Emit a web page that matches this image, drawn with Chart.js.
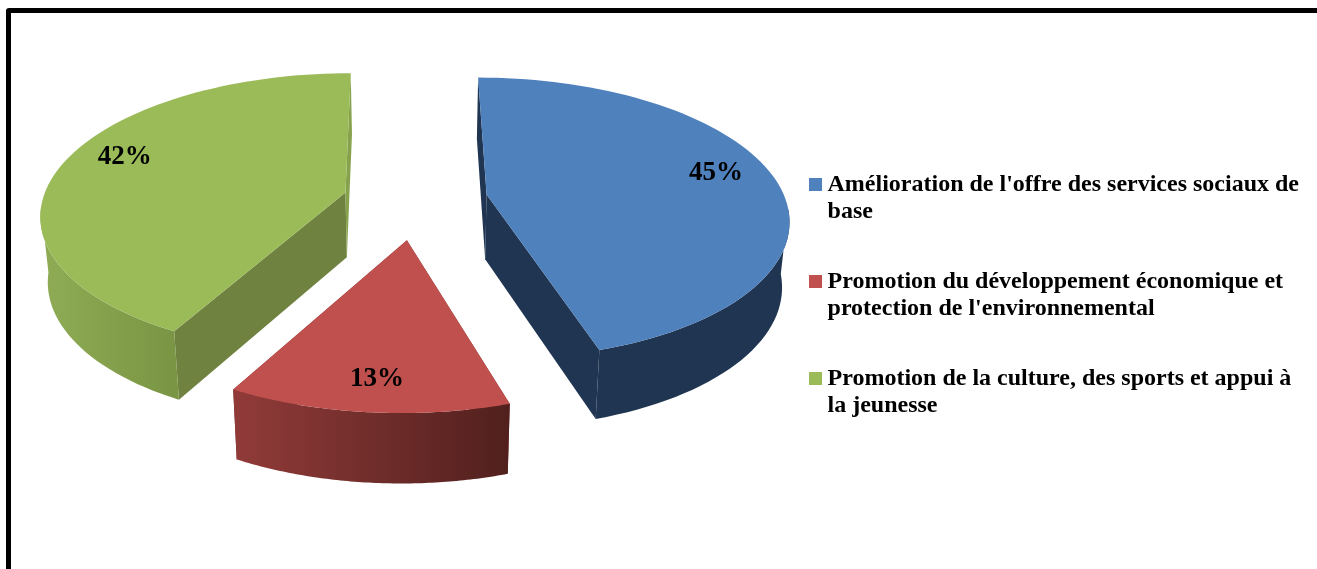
<!DOCTYPE html>
<html>
<head>
<meta charset="utf-8">
<style>
  html, body { margin: 0; padding: 0; background: #fff; overflow: hidden; }
  #frame { position: absolute; left: 6px; top: 8px; width: 1400px; height: 700px; border: 5.5px solid #000; border-radius: 3px; }
  #pie { position: absolute; left: 0; top: 0; }
</style>
</head>
<body>
<div id="frame"></div>
<canvas id="pie" width="1317" height="569"></canvas>
<script src="https://cdn.jsdelivr.net/npm/chart.js@4/dist/chart.umd.js"></script>
<script>
const categories = [
  ["Amélioration de l'offre des services sociaux de", "base"],
  ["Promotion du développement économique et", "protection de l'environnemental"],
  ["Promotion de la culture, des sports et appui à", "la jeunesse"]
];
const shares = [45, 13, 42];

const topColors = ['#4f81bd', '#c0504d', '#9bbb59'];
const curveStops = [['#1f3552', '#1f3552'], ['#913b39', '#51201d'], ['#8fac55', '#7a9544']];
const startWallColors = ['#1f3552', '#71302e', '#6f8240'];
const endWallColors = ['#1f3552', '#71302e', '#86a24c'];
const labelTurn = [-6, -0.5, 7];
const sliceNudgeX = [0, -7, -4];
const sliceNudgeY = [0, 4, -2];
const apexNudgeX = [1, 5, 2];
const apexNudgeY = [-7, -4, -4];

const explode = 71;     // how far each slice is pulled out
const squash = 0.463;   // tilt of the pie
const perspective = 0.12;
const depth = 65;
const bottomScale = 0.98;
const shiftY = -90.5;   // pie sits higher than the legend centre
const labelAt = 0.82;

const pie3d = {
  id: 'pie3d',
  beforeDatasetDraw(chart, args) {
    const ctx = chart.ctx;
    const meta = args.meta;
    const total = shares.reduce((a, b) => a + b, 0);

    meta.data.forEach((el, i) => {
      const R = el.outerRadius;
      const cx = el.x;
      const cy = el.y + shiftY;
      const mid = (el.startAngle + el.endAngle) / 2;
      const ox = Math.cos(mid) * explode;
      const oy = Math.sin(mid) * explode;

      const project = (a, r, drop) => {
        const u = ox + Math.cos(a) * r;
        const v = oy + Math.sin(a) * r;
        const w = 1 - perspective * v / R;
        let x = u / w;
        let y = squash * v / w;
        if (drop) { x *= bottomScale; y += depth / Math.sqrt(w); }
        return [cx + x + sliceNudgeX[i], cy + y + sliceNudgeY[i]];
      };

      const arcPts = (drop) => {
        const pts = [];
        for (let s = 0; s <= 80; s++) {
          pts.push(project(el.startAngle + (el.endAngle - el.startAngle) * s / 80, R, drop));
        }
        return pts;
      };

      const fillPoly = (pts, fill) => {
        ctx.beginPath();
        pts.forEach((p, n) => n ? ctx.lineTo(p[0], p[1]) : ctx.moveTo(p[0], p[1]));
        ctx.closePath();
        ctx.fillStyle = fill;
        ctx.fill();
      };

      const top = arcPts(false);
      const bottom = arcPts(true);
      const apexTop = project(0, 0, false);
      const apexBottom = project(0, 0, true);
      [apexTop, apexBottom].forEach(p => { p[0] += apexNudgeX[i]; p[1] += apexNudgeY[i]; });

      // radial walls
      fillPoly([apexTop, top[0], bottom[0], apexBottom], startWallColors[i]);
      fillPoly([apexTop, top[80], bottom[80], apexBottom], endWallColors[i]);

      // curved wall, only the part that faces the viewer
      const isFront = top.map(p => p[1] >= cy);
      const frontTop = top.filter((p, n) => isFront[n]);
      const frontBottom = bottom.filter((p, n) => isFront[n]);
      const xs = frontTop.map(p => p[0]);
      const grad = ctx.createLinearGradient(Math.min(...xs), 0, Math.max(...xs), 0);
      grad.addColorStop(0, curveStops[i][0]);
      grad.addColorStop(1, curveStops[i][1]);
      fillPoly(frontTop.concat(frontBottom.slice().reverse()), grad);

      // top face
      fillPoly([apexTop].concat(top), topColors[i]);

      // percentage label
      const la = mid + labelTurn[i] * Math.PI / 180;
      const p = project(la, R * labelAt, false);
      ctx.fillStyle = '#000';
      ctx.font = 'bold 27px "Liberation Serif"';
      ctx.textAlign = 'center';
      ctx.textBaseline = 'middle';
      ctx.fillText(Math.round(shares[i] / total * 100) + '%', p[0], p[1]);
    });
    return false;
  }
};

new Chart(document.getElementById('pie').getContext('2d'), {
  type: 'pie',
  data: {
    labels: categories,
    datasets: [{
      data: shares,
      backgroundColor: topColors,
      borderWidth: 0
    }]
  },
  options: {
    responsive: false,
    animation: false,
    radius: 302,
    layout: { padding: { left: 58, right: 8, top: 25, bottom: 0 } },
    plugins: {
      tooltip: { enabled: false },
      legend: {
        position: 'right',
        labels: {
          color: '#000',
          font: { family: '"Liberation Serif"', size: 24, weight: 'bold', lineHeight: 27.5 / 24 },
          usePointStyle: true,
          pointStyle: 'rect',
          boxWidth: 0.01,
          boxHeight: 13,
          padding: 42,
          generateLabels(chart) {
            return categories.map((lines, i) => ({
              text: lines,
              fillStyle: topColors[i],
              strokeStyle: topColors[i],
              lineWidth: 0,
              pointStyle: 'rect',
              index: i
            }));
          }
        }
      }
    }
  },
  plugins: [pie3d]
});
</script>
</body>
</html>
